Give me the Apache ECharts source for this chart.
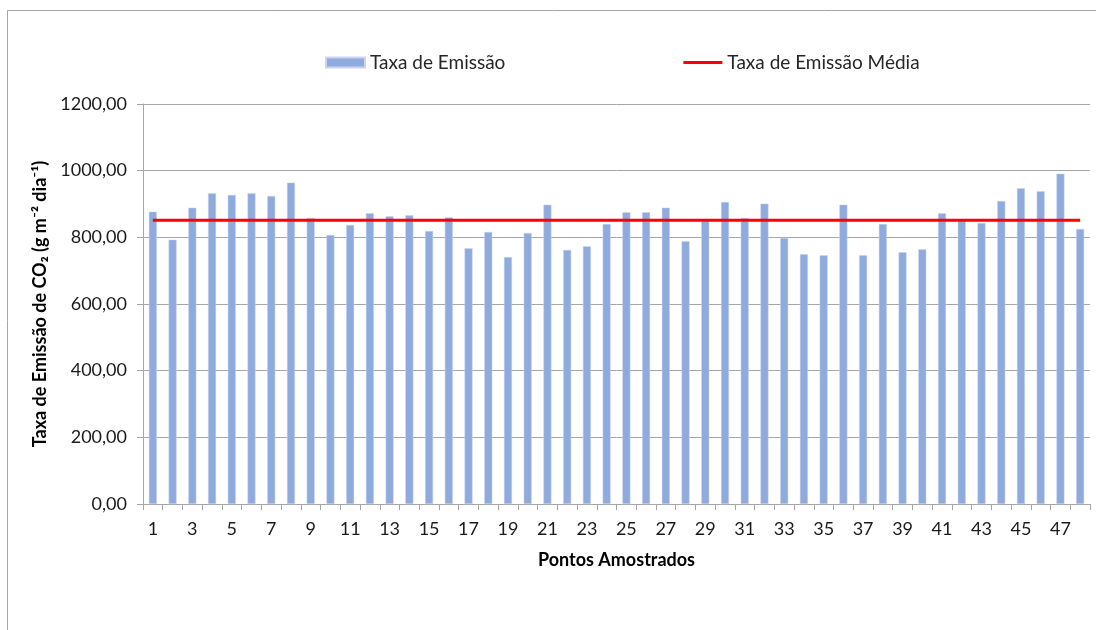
<!DOCTYPE html>
<html>
<head>
<meta charset="utf-8">
<script src="https://cdn.jsdelivr.net/npm/echarts@6/dist/echarts.min.js"></script>
<style>
html,body{margin:0;padding:0;background:#fff;}
#chart{width:1096px;height:630px;}
</style>
</head>
<body>
<div id="chart"></div>
<script>
const categories = ['1','2','3','4','5','6','7','8','9','10','11','12','13','14','15','16','17','18','19','20','21','22','23','24','25','26','27','28','29','30','31','32','33','34','35','36','37','38','39','40','41','42','43','44','45','46','47','48'];
const emissionRates = [877,793,889,932,927,932,924,964,858,807,837,872,863,866,819,860,767,816,741,813,898,762,773,840,875,875,889,788,850,906,858,901,798,749,746,898,746,840,755,764,872,850,843,909,947,938,991,825];
const meanRate = 851;
const yTicks = [0,200,400,600,800,1000,1200];

const FONT = 'Lato';
const chart = echarts.init(document.getElementById('chart'), null, {renderer:'canvas'});
const option = {
  backgroundColor: '#ffffff',
  animation: false,
  textStyle: {fontFamily: FONT},
  graphic: [{
    type: 'rect', silent: true, z: -10,
    shape: {x: 7.5, y: 10.5, width: 1200, height: 800},
    style: {fill: 'none', stroke: '#a6a6a6', lineWidth: 1}
  }],
  legend: {
    top: 53, left: 325,
    padding: 0,
    itemGap: 178,
    itemWidth: 39, itemHeight: 10,
    textStyle: {fontFamily: FONT, fontSize: 19, color: '#262626'},
    data: [
      {name: 'Taxa de Emissão', icon: 'rect'},
      {name: 'Taxa de Emissão Média', icon: 'path://M0,0H40V3H0Z', itemStyle: {color: '#ff0000'}}
    ]
  },
  grid: {left: 143, right: 6, top: 104, bottom: 126, containLabel: false},
  xAxis: {
    type: 'category',
    data: categories,
    boundaryGap: true,
    name: 'Pontos Amostrados',
    nameLocation: 'middle',
    nameGap: 47,
    nameTextStyle: {fontFamily: FONT, fontSize: 18, fontWeight: 'bold', color: '#000'},
    axisLine: {lineStyle: {color: '#a6a6a6', width: 1}},
    axisTick: {show: true, interval: 0, alignWithLabel: false, length: 6, lineStyle: {color: '#a6a6a6'}},
    axisLabel: {interval: 1, margin: 16, fontFamily: FONT, fontSize: 18, color: '#1a1a1a'},
    splitLine: {show: false}
  },
  yAxis: {
    type: 'value',
    min: yTicks[0], max: yTicks[yTicks.length-1], interval: yTicks[1]-yTicks[0],
    name: 'Taxa de Emissão de CO₂ (g m⁻² dia⁻¹)',
    nameLocation: 'middle',
    nameGap: 92,
    nameTextStyle: {fontFamily: FONT, fontSize: 18, fontWeight: 'bold', color: '#000'},
    axisLine: {show: true, lineStyle: {color: '#a6a6a6', width: 1}},
    axisTick: {show: true, length: 6, lineStyle: {color: '#a6a6a6'}},
    axisLabel: {margin: 16, fontFamily: FONT, fontSize: 18, color: '#1a1a1a',
      formatter: v => v.toFixed(2).replace('.', ',')},
    splitLine: {show: true, lineStyle: {color: '#a6a6a6', width: 1}}
  },
  series: [
    {
      name: 'Taxa de Emissão',
      type: 'bar',
      data: emissionRates,
      barWidth: 8,
      itemStyle: {color: '#8FAADC', borderColor: '#c9d6ee', borderWidth: 0.5}
    },
    {
      name: 'Taxa de Emissão Média',
      type: 'line',
      data: categories.map(() => meanRate),
      symbol: 'none',
      lineStyle: {color: '#ff0000', width: 3},
      itemStyle: {color: '#ff0000'},
      z: 5
    }
  ]
};
chart.setOption(option);
</script>
</body>
</html>
